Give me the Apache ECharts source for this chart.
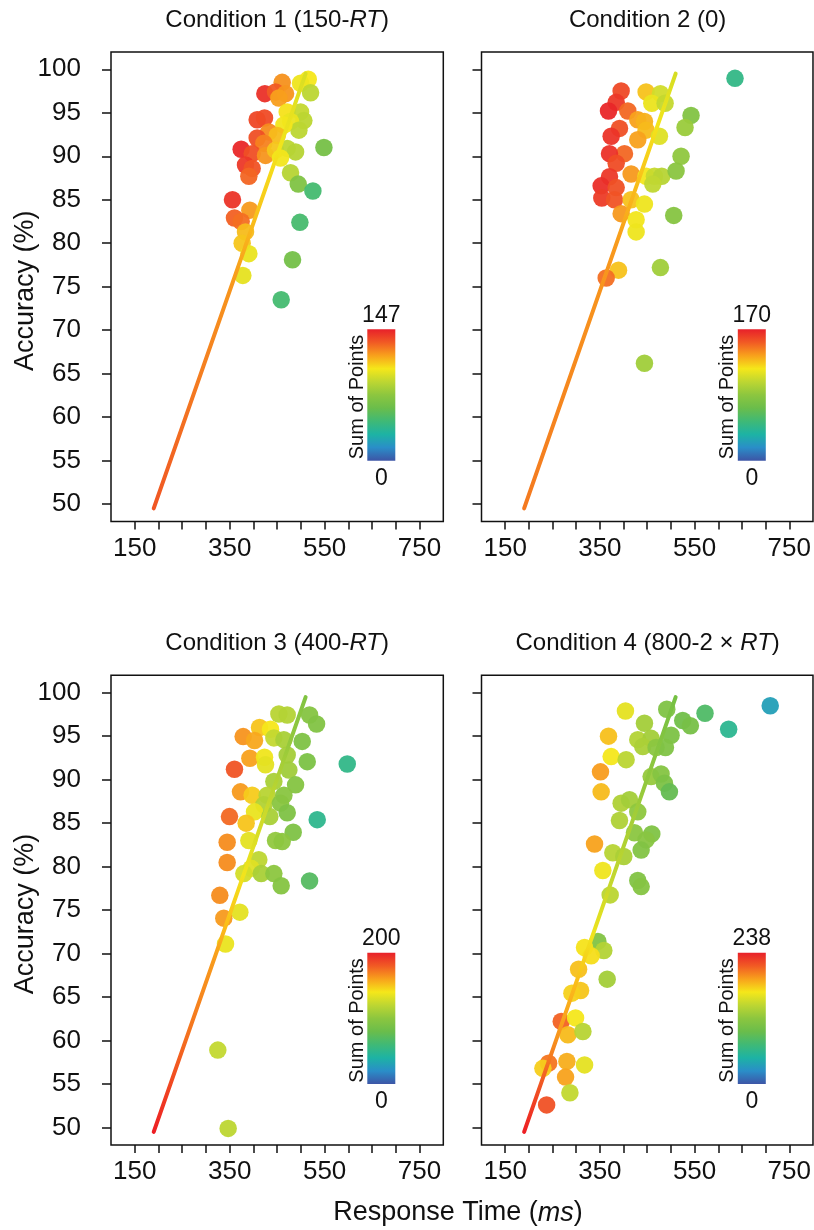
<!DOCTYPE html>
<html><head><meta charset="utf-8">
<script src="https://cdn.jsdelivr.net/npm/echarts@6/dist/echarts.min.js"></script>
<style>html,body{margin:0;padding:0;background:#fff}#c{width:814px;height:1230px}</style>
</head><body><div id="c"></div>
<script>
// ---------- data ----------
const xTicks = [150,200,250,300,350,400,450,500,550,600,650,700,750];
const xTickLabels = [150,350,550,750];
const yTicks = [50,55,60,65,70,75,80,85,90,95,100];
const pointsMax = [147,170,200,238];
const fitRT = [190,510];
const fitAcc = [49.5,99.5];

const c1RT  = [515.5,499.3,460.6,520.4,424.1,446.6,467.7,453.6,407.9,423.4,471.2,499.3,506.3,478.2,495.8,464.2,432.5,450.1,407.9,422.0,374.2,397.4,425.5,446.6,471.2,488.8,457.1,548.5,383.3,397.4,390.4,478.2,494.4,525.3,355.9,392.5,360.1,374.2,383.3,376.3,390.4,497.9,482.4,377.7,458.5];
const c1Acc = [98.85,98.4,98.5,97.3,97.2,97.4,97.2,96.7,94.2,94.4,95.1,95.1,94.1,94.0,93.0,93.6,92.8,92.4,92.1,91.5,90.8,90.3,90.1,90.7,90.9,90.5,89.8,91.0,89.0,88.6,87.7,88.1,86.8,86.0,85.0,83.8,82.9,82.5,81.3,80.0,78.8,82.4,78.1,76.3,73.5];
const c1Pts = [103,101,121,88,143,132,120,118,137,136,104,90,88,100,88,102,122,112,135,124,145,135,120,110,88,86,102,64,141,134,130,86,68,46,142,119,131,128,112,110,100,47,63,99,46];

const c2RT  = [635.3,394.9,447.6,477.8,384.4,459.6,487.7,368.2,409.0,542.5,430.0,444.1,391.4,529.8,373.8,447.6,475.7,430.0,401.9,370.3,521.4,384.4,416.0,447.6,465.2,480.6,510.9,370.3,352.7,461.7,384.4,354.1,380.9,416.0,444.1,394.9,426.5,505.9,426.5,389.3,363.3,477.8,444.1];
const c2Acc = [98.96,97.5,97.4,97.2,96.2,96.1,96.1,95.2,95.2,94.7,94.2,94.0,93.2,93.3,92.3,93.0,92.3,91.9,90.3,90.3,90.0,89.2,87.96,87.7,87.7,87.7,88.3,87.65,86.6,86.8,86.4,85.2,85.0,85.0,84.5,83.4,82.7,83.2,81.3,76.9,76.0,77.2,66.2];
const c2Pts = [45,158,128,108,163,116,104,168,150,80,136,132,156,90,164,130,112,136,150,165,86,157,138,118,105,100,84,163,166,103,156,162,155,128,117,138,118,82,117,128,148,92,92];

const c3RT  = [453.6,471.2,518.3,533.0,412.9,436.0,378.4,402.3,443.1,464.2,502.8,392.5,423.4,471.2,513.4,597.7,360.1,425.5,474.7,443.1,488.8,372.8,397.4,429.0,464.2,422.0,457.1,402.3,471.2,534.4,349.6,384.7,434.6,483.8,390.4,344.7,446.6,460.6,344.7,411.4,395.3,379.8,416.4,443.1,458.5,518.3,329.2,371.4,337.6,341.2,325.0,346.8];
const c3Acc = [97.55,97.44,97.44,96.4,96.0,95.8,94.95,94.5,94.8,94.6,94.4,92.46,92.57,92.84,92.07,91.8,91.2,91.7,91.1,89.8,89.4,88.6,88.2,88.2,88.2,87.1,87.3,86.3,86.2,85.4,85.75,85.0,85.75,83.95,83.0,82.8,83.0,82.88,80.47,80.8,79.8,79.2,79.2,79.2,77.8,78.36,76.7,74.76,74.07,71.1,58.9,49.9];
const c3Pts = [118,116,96,94,150,140,164,158,122,112,92,160,138,110,90,52,182,134,108,112,96,162,148,118,98,115,98,136,92,50,176,150,112,92,134,166,102,100,166,120,132,128,112,100,96,70,166,134,162,136,122,120];

const c4RT  = [709.7,404.0,491.2,572.0,524.9,541.1,621.9,444.1,368.2,430.0,458.2,500.3,440.6,468.7,488.4,373.8,405.4,351.3,458.2,479.2,486.3,496.8,352.7,394.9,412.5,430.0,391.4,423.0,459.6,447.6,437.1,338.7,377.3,400.5,356.2,430.0,437.1,371.7,345.7,317.6,358.3,331.6,305.0,365.4,309.2,290.9,268.4,298.6,282.4,314.1,241.7,229.7,280.3,317.6,277.5,286.7,237.5];
const c4Acc = [98.5,97.9,98.1,97.63,96.8,96.2,95.8,96.48,95.0,94.6,94.75,95.1,93.8,93.7,93.7,92.65,92.3,90.9,90.35,90.65,89.6,88.6,88.6,87.3,87.7,86.3,85.3,83.9,83.76,83.07,81.9,82.6,81.6,81.16,79.55,78.4,77.7,76.75,71.4,70.7,70.35,69.74,68.2,67.06,65.75,65.45,62.2,62.6,60.66,61.04,57.4,56.8,57.6,57.2,55.8,54.0,52.6];
const c4Pts = [35,160,110,80,100,104,58,130,180,138,130,108,134,118,110,166,142,192,124,114,108,92,182,136,130,120,136,118,110,116,112,190,140,134,164,112,114,142,112,168,138,170,180,130,178,174,212,166,182,140,205,175,186,160,190,145,218];

const titleTexts = [
  ['Condition 1 (150-', 'RT', ')'],
  ['Condition 2 (0)', '', ''],
  ['Condition 3 (400-', 'RT', ')'],
  ['Condition 4 (800-2 \u00d7 ', 'RT', ')']
];
const yName = 'Accuracy (%)';
const xName = ['Response Time (', 'ms', ')'];
const cbLabel = 'Sum of Points';

// ---------- styling ----------
const FONT = '"Liberation Sans", Arial, Helvetica, sans-serif';
const INK = '#111';
const ramp = ['#3d55a6','#2a8ec8','#1db3a4','#3fb976','#6abd4b','#8cc63f','#bdd632','#f5e71a','#f8a11c','#f15a24','#e8202a'];
const lineStops = [
  [[0,'#d8de24'],[0.18,'#f3e41b'],[0.28,'#f7cf1b'],[0.38,'#f9b21b'],[0.5,'#f7941d'],[0.72,'#f47a21'],[1,'#f05523']],
  [[0,'#d4dd24'],[0.12,'#f3e51b'],[0.25,'#f9c01a'],[0.4,'#f8991d'],[1,'#f47920']],
  [[0,'#80c342'],[0.1,'#92c83d'],[0.26,'#c8d92c'],[0.41,'#f2e41c'],[0.52,'#fbbf19'],[0.6,'#f89c1c'],[0.78,'#f4701f'],[1,'#ed1c24']],
  [[0,'#74c043'],[0.2,'#92c83d'],[0.44,'#c8d92c'],[0.55,'#f1e41c'],[0.67,'#fbb81a'],[0.78,'#f7941d'],[0.88,'#f15a24'],[1,'#ed1c24']]
];
const GW = 332.3, GH = 469.6;
const panels = [
  {left:111, top:51.9}, {left:481.5, top:51.9},
  {left:111, top:675.3}, {left:481.5, top:675.3}
];

const RT = [c1RT,c2RT,c3RT,c4RT], ACC=[c1Acc,c2Acc,c3Acc,c4Acc], PTS=[c1Pts,c2Pts,c3Pts,c4Pts];

const grids=[], xAxes=[], yAxes=[], series=[], visualMaps=[], graphics=[];
panels.forEach((p,i)=>{
  grids.push({left:p.left, top:p.top, width:GW, height:GH, show:true, borderColor:INK, borderWidth:1.5, backgroundColor:'transparent'});
  xAxes.push({type:'value', gridIndex:i, min:100, max:800,
    axisLine:{show:false}, splitLine:{show:false},
    axisTick:{show:true, customValues:xTicks, length:8, lineStyle:{color:INK, width:1.5}},
    axisLabel:{customValues:xTickLabels, fontSize:26, fontFamily:FONT, color:INK, margin:14}
  });
  yAxes.push({type:'value', gridIndex:i, min:48, max:102,
    axisLine:{show:false}, splitLine:{show:false},
    axisTick:{show:true, customValues:yTicks, length:9, lineStyle:{color:INK, width:1.5}},
    axisLabel:{show: i%2===0, customValues:yTicks, fontSize:26, fontFamily:FONT, color:INK, margin:30}
  });
  const data = RT[i].map((x,k)=>[x, ACC[i][k], PTS[i][k]]);
  series.push({type:'scatter', xAxisIndex:i, yAxisIndex:i, data, symbol:'circle', symbolSize:17.5,
    itemStyle:{opacity:0.95}, z:2, silent:true});
  visualMaps.push({type:'continuous', show:false, seriesIndex:i, dimension:2, min:0, max:pointsMax[i], inRange:{color:ramp}});
});
panels.forEach((p,i)=>{
  series.push({type:'line', xAxisIndex:i, yAxisIndex:i, data: fitRT.map((x,k)=>[x, fitAcc[k]]),
    symbol:'none', z:5, silent:true,
    lineStyle:{width:4, cap:'round', color:{type:'linear', x:0, y:0, x2:0, y2:1,
      colorStops: lineStops[i].map(s=>({offset:s[0], color:s[1]}))}}});
  // titles
  const t = titleTexts[i];
  graphics.push({type:'text', x:p.left+GW/2, y:p.top-32, style:{
    text: '{n|'+t[0]+'}' + (t[1]?'{i|'+t[1]+'}':'') + (t[2]?'{n|'+t[2]+'}':''),
    align:'center', verticalAlign:'middle',
    rich:{n:{fontSize:24, fontFamily:FONT, fill:INK}, i:{fontSize:24, fontFamily:FONT, fontStyle:'italic', fill:INK}}
  }});
  // colorbar
  const bx = p.left+256.3, by = p.top+277.4, bw=28, bh=131.4;
  graphics.push({type:'rect', shape:{x:bx, y:by, width:bw, height:bh}, style:{
    fill:{type:'linear', x:0, y:0, x2:0, y2:1, colorStops: ramp.slice().reverse().map((c,k)=>({offset:k/(ramp.length-1), color:c}))}}});
  graphics.push({type:'text', x:bx+bw/2, y:by-14, style:{text:String(pointsMax[i]), align:'center', verticalAlign:'middle', fontSize:23, fontFamily:FONT, fill:INK}});
  graphics.push({type:'text', x:bx+bw/2, y:by+bh+18, style:{text:'0', align:'center', verticalAlign:'middle', fontSize:23, fontFamily:FONT, fill:INK}});
  graphics.push({type:'text', x:bx-10, y:by+bh/2+2, rotation:Math.PI/2, style:{text:cbLabel, align:'center', verticalAlign:'middle', fontSize:20, fontFamily:FONT, fill:INK}});
  if (i%2===0) {
    graphics.push({type:'text', x:26, y:p.top+GH/2+4, rotation:Math.PI/2, style:{text:yName, align:'center', verticalAlign:'middle', fontSize:27, fontFamily:FONT, fill:INK}});
  }
});
graphics.push({type:'text', x:458, y:1213, style:{
  text:'{n|'+xName[0]+'}{i|'+xName[1]+'}{n|'+xName[2]+'}', align:'center', verticalAlign:'middle',
  rich:{n:{fontSize:27, fontFamily:FONT, fill:INK}, i:{fontSize:27, fontFamily:FONT, fontStyle:'italic', fill:INK}}}});

const chart = echarts.init(document.getElementById('c'), null, {renderer:'canvas'});
chart.setOption({
  animation:false, backgroundColor:'#fff',
  grid:grids, xAxis:xAxes, yAxis:yAxes, visualMap:visualMaps, series, graphic:graphics
});
</script></body></html>
